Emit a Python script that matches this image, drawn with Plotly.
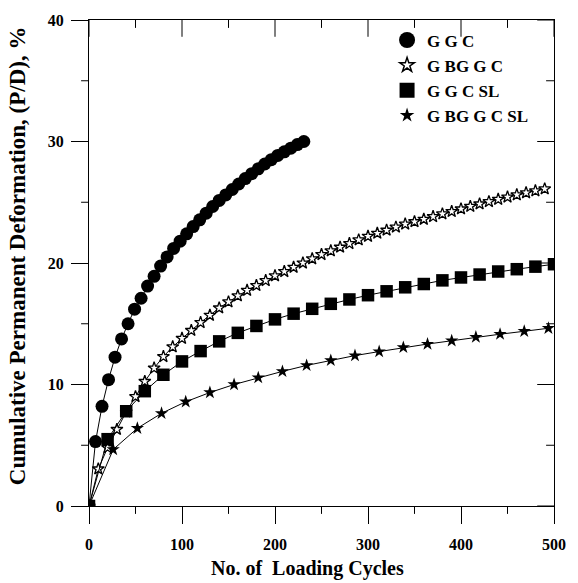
import plotly.graph_objects as go

# ---------------- data ----------------
ggc_x = [0, 7, 14, 21, 28, 35, 42, 49, 56, 63, 70, 77, 84, 91, 98, 105, 112, 119, 126, 133,
         140, 147, 154, 161, 168, 175, 182, 189, 196, 203, 210, 217, 224, 231]
ggc_y = [0, 5.3, 8.2, 10.4, 12.25, 13.75, 15.0, 16.2, 17.1, 18.1, 18.9, 19.75, 20.5, 21.2,
         21.8, 22.4, 23.0, 23.55, 24.1, 24.65, 25.15, 25.6, 26.05, 26.5, 26.95, 27.35, 27.75,
         28.15, 28.5, 28.85, 29.15, 29.45, 29.75, 30.0]

gbggc_x = [0, 10, 20, 30, 40, 50, 60, 70, 80, 90, 100, 110, 120, 130, 140, 150, 160, 170, 180,
           190, 200, 210, 220, 230, 240, 250, 260, 270, 280, 290, 300, 310, 320, 330, 340, 350,
           360, 370, 380, 390, 400, 410, 420, 430, 440, 450, 460, 470, 480, 490]
gbggc_y = [0, 3.05, 4.8, 6.3, 7.75, 9.0, 10.25, 11.35, 12.3, 13.1, 13.8, 14.45, 15.1, 15.7,
           16.3, 16.8, 17.3, 17.75, 18.15, 18.55, 18.95, 19.3, 19.65, 20.0, 20.35, 20.7, 21.0,
           21.3, 21.6, 21.9, 22.2, 22.45, 22.7, 22.95, 23.2, 23.4, 23.6, 23.82, 24.04, 24.24,
           24.45, 24.66, 24.86, 25.05, 25.24, 25.43, 25.61, 25.78, 25.94, 26.1]

ggcsl_x = [0, 20, 40, 60, 80, 100, 120, 140, 160, 180, 200, 220, 240, 260, 280, 300, 320, 340,
           360, 380, 400, 420, 440, 460, 480, 500]
ggcsl_y = [0, 5.5, 7.8, 9.45, 10.8, 11.9, 12.75, 13.55, 14.25, 14.82, 15.36, 15.83, 16.23,
           16.64, 17.0, 17.35, 17.67, 18.0, 18.27, 18.57, 18.81, 19.05, 19.3, 19.49, 19.7, 19.9]

gbggcsl_x = [0, 26, 52, 78, 104, 130, 156, 182, 208, 234, 260, 286, 312, 338, 364, 390, 416,
             442, 468, 494]
gbggcsl_y = [0, 4.65, 6.4, 7.63, 8.58, 9.34, 10.0, 10.56, 11.08, 11.57, 11.98, 12.38, 12.71,
             13.05, 13.33, 13.6, 13.9, 14.14, 14.38, 14.63]

names = ["G G C", "G BG G C", "G G C SL", "G BG G C SL"]

x_range = [0, 500]
y_range = [0, 40]
x_major = [0, 100, 200, 300, 400, 500]
x_minor = [50, 150, 250, 350, 450]
y_major = [0, 10, 20, 30, 40]
y_minor = [5, 15, 25, 35]

x_title = "No. of\u00a0 Loading Cycles"
y_title = "Cumulative Permanent Deformation, (P/D), %"

FONT = "Liberation Serif"
BLACK = "black"
MAJOR_LEN = 17
MINOR_LEN = 8
TICK_W = 1

fig = go.Figure()

line_style = dict(color=BLACK, width=1)

# data traces (drawing order: circles, open stars, filled stars, squares)
fig.add_trace(go.Scatter(x=ggc_x, y=ggc_y, mode="lines+markers", line=line_style,
                         marker=dict(symbol="circle", size=13, color=BLACK),
                         showlegend=False))
fig.add_trace(go.Scatter(x=gbggc_x, y=gbggc_y, mode="lines+markers", line=line_style,
                         marker=dict(symbol="star", size=9, color="white",
                                     line=dict(color=BLACK, width=1.3)),
                         showlegend=False))
fig.add_trace(go.Scatter(x=gbggcsl_x, y=gbggcsl_y, mode="lines+markers", line=line_style,
                         marker=dict(symbol="star", size=10, color=BLACK),
                         showlegend=False))
fig.add_trace(go.Scatter(x=ggcsl_x, y=ggcsl_y, mode="lines+markers", line=line_style,
                         marker=dict(symbol="square", size=12.5, color=BLACK),
                         showlegend=False))

# legend-only traces
leg_markers = [
    dict(symbol="circle", size=16, color=BLACK),
    dict(symbol="star", size=11, color="white", line=dict(color=BLACK, width=1.5)),
    dict(symbol="square", size=15, color=BLACK),
    dict(symbol="star", size=11, color=BLACK),
]
for nm, mk in zip(names, leg_markers):
    fig.add_trace(go.Scatter(x=[None], y=[None], mode="markers", name=nm, marker=mk,
                             showlegend=True))

# extra tick marks as shapes: minor ticks outside (bottom/left),
# and mirrored major+minor ticks pointing inward (top/right); paper coords
shapes = []
tick_line = dict(color=BLACK, width=TICK_W)
plot_w = 578 - 89 - 18
plot_h = 583 - 14 - 77
for v in x_minor:
    px = (v - x_range[0]) / (x_range[1] - x_range[0])
    shapes.append(dict(type="line", xref="paper", yref="paper", x0=px, x1=px,
                       y0=0, y1=-MINOR_LEN / plot_h, line=tick_line, layer="above"))
for vals, ln in ((x_major, MAJOR_LEN), (x_minor, MINOR_LEN)):
    for v in vals:
        px = (v - x_range[0]) / (x_range[1] - x_range[0])
        shapes.append(dict(type="line", xref="paper", yref="paper", x0=px, x1=px,
                           y0=1, y1=1 - ln / plot_h, line=tick_line, layer="above"))
for v in y_minor:
    py = (v - y_range[0]) / (y_range[1] - y_range[0])
    shapes.append(dict(type="line", xref="paper", yref="paper", y0=py, y1=py,
                       x0=0, x1=-MINOR_LEN / plot_w, line=tick_line, layer="above"))
for vals, ln in ((y_major, MAJOR_LEN), (y_minor, MINOR_LEN)):
    for v in vals:
        py = (v - y_range[0]) / (y_range[1] - y_range[0])
        shapes.append(dict(type="line", xref="paper", yref="paper", y0=py, y1=py,
                           x0=1, x1=1 - ln / plot_w, line=tick_line, layer="above"))

tick_font = dict(family=FONT, size=16, color=BLACK, weight="bold")

fig.update_layout(
    width=578, height=583,
    margin=dict(l=89, r=18, t=14, b=77),
    paper_bgcolor="white", plot_bgcolor="white",
    font=dict(family=FONT, color=BLACK),
    showlegend=True,
    legend=dict(x=0.641, y=0.995, xanchor="left", yanchor="top",
                bgcolor="rgba(0,0,0,0)", borderwidth=0, itemwidth=30,
                font=dict(family=FONT, size=17, color=BLACK, weight="bold")),
    xaxis=dict(range=x_range, tickvals=x_major, ticks="outside", ticklen=MAJOR_LEN,
               tickwidth=TICK_W, tickcolor=BLACK, ticklabelstandoff=7,
               showline=True, linecolor=BLACK, linewidth=1,
               mirror=True, showgrid=False, zeroline=False, tickfont=tick_font),
    yaxis=dict(range=y_range, tickvals=y_major, ticks="outside", ticklen=MAJOR_LEN,
               tickwidth=TICK_W, tickcolor=BLACK, ticklabelstandoff=4,
               showline=True, linecolor=BLACK, linewidth=1,
               mirror=True, showgrid=False, zeroline=False, tickfont=tick_font),
    shapes=shapes,
    annotations=[
        dict(text=x_title, xref="paper", yref="paper", x=0.469, y=0, xanchor="center",
             yanchor="middle", yshift=-62, showarrow=False,
             font=dict(family=FONT, size=20, color=BLACK, weight="bold")),
        dict(text=y_title, xref="paper", yref="paper", x=0, y=0.515, xanchor="center",
             yanchor="middle", xshift=-71.5, textangle=-90, showarrow=False,
             font=dict(family=FONT, size=23, color=BLACK, weight="bold")),
    ],
)

fig.write_html("out.html")
